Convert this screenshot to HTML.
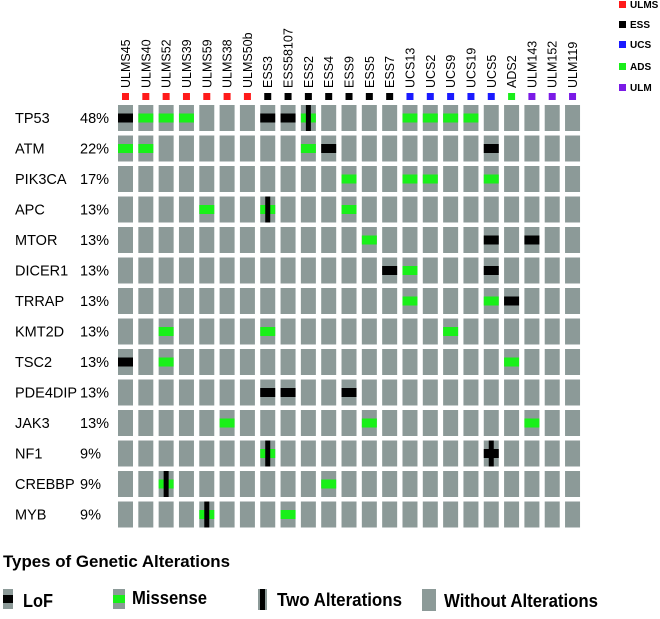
<!DOCTYPE html>
<html><head><meta charset="utf-8">
<style>
html,body{margin:0;padding:0;background:#fff;}
svg{display:block;font-family:"Liberation Sans",Arial,sans-serif;}
</style></head>
<body>
<svg id="chart" width="660" height="619" viewBox="0 0 660 619" xmlns="http://www.w3.org/2000/svg">
<g id="samples"></g>
<g id="grid"></g>
<g id="genes"></g>
<g font-size="10" font-weight="bold">
  <rect x="619" y="1" width="7" height="7" fill="#ff1a1a"/><text x="630" y="8">ULMS</text>
  <rect x="619" y="21" width="7" height="7" fill="#000"/><text x="630" y="28">ESS</text>
  <rect x="619" y="41" width="7" height="7" fill="#1a1aff"/><text x="630" y="48">UCS</text>
  <rect x="619" y="63" width="7" height="7" fill="#1aee1a"/><text x="630" y="70">ADS</text>
  <rect x="619" y="84" width="7" height="7" fill="#7a1ae6"/><text x="630" y="91">ULM</text>
</g>
<g font-weight="bold">
  <text x="3" y="567" font-size="17" textLength="227" lengthAdjust="spacingAndGlyphs">Types of Genetic Alterations</text>
  <rect x="3" y="589" width="10" height="20" fill="#8c9a98"/>
  <rect x="3" y="595" width="10" height="8" fill="#000"/>
  <text x="23" y="607" font-size="18" textLength="30" lengthAdjust="spacingAndGlyphs">LoF</text>
  <rect x="113" y="589" width="12" height="20" fill="#8c9a98"/>
  <rect x="113" y="595" width="12" height="8" fill="#19f019"/>
  <text x="132" y="604" font-size="18" textLength="75" lengthAdjust="spacingAndGlyphs">Missense</text>
  <rect x="258" y="589" width="9" height="21" fill="#8c9a98"/>
  <rect x="260" y="589" width="5" height="21" fill="#000"/>
  <text x="277" y="606" font-size="18" textLength="125" lengthAdjust="spacingAndGlyphs">Two Alterations</text>
  <rect x="422" y="589" width="14" height="22" fill="#8c9a98"/>
  <text x="444" y="607" font-size="18" textLength="154" lengthAdjust="spacingAndGlyphs">Without Alterations</text>
</g>
</svg>
<script>
const samples = ["ULMS45","ULMS40","ULMS52","ULMS39","ULMS59","ULMS38","ULMS50b","ESS3","ESS58107","ESS2","ESS4","ESS9","ESS5","ESS7","UCS13","UCS2","UCS9","UCS19","UCS5","ADS2","ULM143","ULM152","ULM119"];
const sampleTypes = ["ULMS","ULMS","ULMS","ULMS","ULMS","ULMS","ULMS","ESS","ESS","ESS","ESS","ESS","ESS","ESS","UCS","UCS","UCS","UCS","UCS","ADS","ULM","ULM","ULM"];
const genes = ["TP53","ATM","PIK3CA","APC","MTOR","DICER1","TRRAP","KMT2D","TSC2","PDE4DIP","JAK3","NF1","CREBBP","MYB"];
const percents = ["48%","22%","17%","13%","13%","13%","13%","13%","13%","13%","13%","9%","9%","9%"];
// alterations: [geneIndex, sampleIndex, type]  L=LoF M=Missense T=Two(missense+LoF) X=Two LoF
const alterations = [
 [0,0,"L"],[0,1,"M"],[0,2,"M"],[0,3,"M"],[0,7,"L"],[0,8,"L"],[0,9,"T"],[0,14,"M"],[0,15,"M"],[0,16,"M"],[0,17,"M"],
 [1,0,"M"],[1,1,"M"],[1,9,"M"],[1,10,"L"],[1,18,"L"],
 [2,11,"M"],[2,14,"M"],[2,15,"M"],[2,18,"M"],
 [3,4,"M"],[3,7,"T"],[3,11,"M"],
 [4,12,"M"],[4,18,"L"],[4,20,"L"],
 [5,13,"L"],[5,14,"M"],[5,18,"L"],
 [6,14,"M"],[6,18,"M"],[6,19,"L"],
 [7,2,"M"],[7,7,"M"],[7,16,"M"],
 [8,0,"L"],[8,2,"M"],[8,19,"M"],
 [9,7,"L"],[9,8,"L"],[9,11,"L"],
 [10,5,"M"],[10,12,"M"],[10,20,"M"],
 [11,7,"T"],[11,18,"X"],
 [12,2,"T"],[12,10,"M"],
 [13,4,"T"],[13,8,"M"]
];
const typeColors = {ULMS:"#ff1a1a",ESS:"#000",UCS:"#1a1aff",ADS:"#1aee1a",ULM:"#7a1ae6"};
const NS="http://www.w3.org/2000/svg";
const x0=118, colPitch=20.32, cellW=15, y0=105, rowPitch=30.5, cellH=26;
function xPos(i){return x0+i*colPitch;}
function yPos(j){return y0+j*rowPitch;}
function mk(tag,attrs,parent){const e=document.createElementNS(NS,tag);for(const k in attrs)e.setAttribute(k,attrs[k]);parent.appendChild(e);return e;}
const gS=document.getElementById('samples'), gG=document.getElementById('grid'), gL=document.getElementById('genes');
samples.forEach((s,i)=>{
  const cx=xPos(i)+cellW/2;
  const t=mk('text',{x:0,y:0,'font-size':12.5,transform:`translate(${cx+4.5},88) rotate(-90)`},gS);
  t.textContent=s;
  
  
  const r=mk('rect',{x:cx-3.5,y:93,width:7,height:7,fill:typeColors[sampleTypes[i]]},gS);
  
  
});
genes.forEach((g,j)=>{
  const yc=yPos(j)+cellH/2+5;
  const t=mk('text',{x:15,y:yc,'font-size':14.5},gL);t.textContent=g;
  
  
  const p=mk('text',{x:80,y:yc,'font-size':14.5},gL);p.textContent=percents[j];
  
  
  samples.forEach((s,i)=>{
    const c=mk('rect',{x:xPos(i),y:yPos(j),width:cellW,height:cellH,fill:"#8c9a98"},gG);
    
    
  });
});
alterations.forEach(([j,i,t])=>{
  const x=xPos(i), y=yPos(j), by=y+cellH/2-4.5;
  const hc=(t==="M"||t==="T")?"#19f019":"#000";
  const h=mk('rect',{x:x,y:by,width:cellW,height:9,fill:hc},gG);
  
  
  if(t==="T"||t==="X"){
    const v=mk('rect',{x:x+cellW/2-2.5,y:y,width:5,height:cellH,fill:"#000"},gG);
    
    
  }
});
</script>
</body></html>
